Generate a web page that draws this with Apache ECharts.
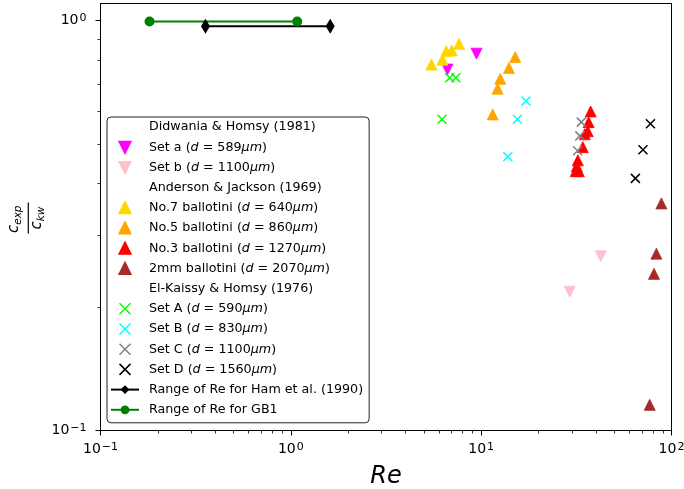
<!DOCTYPE html>
<html>
<head>
<meta charset="utf-8">
<script src="https://cdn.jsdelivr.net/npm/echarts@6/dist/echarts.min.js"></script>
<style>
  html, body { margin: 0; padding: 0; background: #fff; }
  #chart { width: 684px; height: 489px; }
</style>
</head>
<body>
<div id="chart"></div>
<script>
// Measured Re vs. c_exp / c_kw, grouped by source
const didwaniaSetA = [[9.45, 0.830], [6.65, 0.759]];
const didwaniaSetB = [[42.5, 0.266], [29.2, 0.218]];
const ajNo7 = [[5.48, 0.781], [6.26, 0.802], [6.56, 0.842], [7.01, 0.845], [7.65, 0.877]];
const ajNo5 = [[15.1, 0.814], [14.0, 0.766], [12.6, 0.721], [12.2, 0.682], [11.5, 0.590]];
const ajNo3 = [[37.6, 0.600], [36.7, 0.565], [36.3, 0.537], [35.0, 0.528], [34.2, 0.491],
               [32.2, 0.456], [31.8, 0.441], [31.4, 0.429], [32.6, 0.429]];
const aj2mm = [[88.5, 0.358], [83.3, 0.270], [80.9, 0.241], [76.8, 0.1155]];
const ekSetA = [[6.84, 0.725], [7.36, 0.725], [6.23, 0.574]];
const ekSetB = [[17.2, 0.636], [15.5, 0.574], [13.8, 0.465]];
const ekSetC = [[33.6, 0.565], [33.0, 0.523], [32.1, 0.481]];
const ekSetD = [[77.5, 0.560], [70.8, 0.484], [64.6, 0.412]];
const hamRange = [[0.356, 0.968], [1.61, 0.968]];
const gb1Range = [[0.181, 0.994], [1.08, 0.994]];

// Axis ticks (label exponents are drawn as superscripts)
const xMajorTicks = [0.1, 1, 10, 100];
const xTickExponents = ['−1', '0', '1', '2'];
const xMinorTicks = [0.2, 0.3, 0.4, 0.5, 0.6, 0.7, 0.8, 0.9,
                     2, 3, 4, 5, 6, 7, 8, 9,
                     20, 30, 40, 50, 60, 70, 80, 90];
const yMajorTicks = [0.1, 1];
const yTickExponents = ['−1', '0'];
const yMinorTicks = [0.2, 0.3, 0.4, 0.5, 0.6, 0.7, 0.8, 0.9];

// Legend group headings
const headings = ['Didwania & Homsy (1981)', 'Anderson & Jackson (1969)', 'El-Kaissy & Homsy (1976)'];

const FONT = 'DejaVu Sans';
const TRI_UP = 'path://M1,0L2,2L0,2Z';
const TRI_DOWN = 'path://M0,0L2,0L1,2Z';
const CROSS = 'path://M0,0L10,10M10,0L0,10';

function labelFor(ticks, exps) {
  return v => {
    for (let i = 0; i < ticks.length; i++) {
      if (Math.abs(Math.log10(v) - Math.log10(ticks[i])) < 1e-6) return '{b|10}{s|' + exps[i] + '}';
    }
    return '';
  };
}

const tickRich = {
  b: { fontSize: 14, fontFamily: FONT, color: '#000', lineHeight: 16 },
  s: { fontSize: 11, fontFamily: FONT, color: '#000', lineHeight: 6, verticalAlign: 'top', padding: [0, 0, 0, 1] }
};

function markerSeries(name, data, kind, color) {
  const s = { type: 'scatter', name, data, z: 3 };
  if (kind === 'cross') {
    s.symbol = CROSS;
    s.symbolSize = 9;
    s.itemStyle = { color: 'rgba(0,0,0,0)', borderColor: color, borderWidth: 1.5, opacity: 1 };
  } else {
    s.symbol = kind === 'down' ? TRI_DOWN : TRI_UP;
    s.symbolSize = 11;
    s.itemStyle = { color, borderColor: color, borderWidth: 0.8, opacity: 1 };
  }
  return s;
}

function headingSeries(name) {
  return { type: 'scatter', name, data: [] };
}

const series = [
  headingSeries(headings[0]),
  markerSeries('Set a (d=589μm)', didwaniaSetA, 'down', '#ff00ff'),
  markerSeries('Set b (d=1100μm)', didwaniaSetB, 'down', '#ffc0cb'),
  headingSeries(headings[1]),
  markerSeries('No.7 ballotini (d=640μm)', ajNo7, 'up', '#ffd700'),
  markerSeries('No.5 ballotini (d=860μm)', ajNo5, 'up', '#ffa500'),
  markerSeries('No.3 ballotini (d=1270μm)', ajNo3, 'up', '#ff0000'),
  markerSeries('2mm ballotini (d=2070μm)', aj2mm, 'up', '#a52a2a'),
  headingSeries(headings[2]),
  markerSeries('Set A (d=590μm)', ekSetA, 'cross', '#00ff00'),
  markerSeries('Set B (d=830μm)', ekSetB, 'cross', '#00ffff'),
  markerSeries('Set C (d=1100μm)', ekSetC, 'cross', '#808080'),
  markerSeries('Set D (d=1560μm)', ekSetD, 'cross', '#000000'),
  {
    type: 'line', name: 'Range of Re for Ham et al. (1990)', data: hamRange,
    symbol: 'diamond', symbolSize: [9, 15], showSymbol: true, z: 4,
    lineStyle: { color: '#000', width: 2 }, itemStyle: { color: '#000', opacity: 1 }
  },
  {
    type: 'line', name: 'Range of Re for GB1', data: gb1Range,
    symbol: 'circle', symbolSize: 10, showSymbol: true, z: 4,
    lineStyle: { color: '#008000', width: 2 }, itemStyle: { color: '#008000', opacity: 1 }
  }
];

const legendData = series.map(s => {
  if (headings.includes(s.name)) {
    return { name: s.name, icon: 'rect', itemStyle: { opacity: 0 } };
  }
  if (s.symbol === CROSS) {
    return { name: s.name, itemStyle: { borderWidth: 1.5 } };
  }
  return { name: s.name };
});

function legendText(name) {
  const m = name.match(/^(.*)\(d=(\d+)μm\)$/);
  if (!m) return name;
  return m[1] + '({i|d}{n| = ' + m[2] + '}{i|μm})';
}

const axisCommon = {
  type: 'log', logBase: 10,
  splitLine: { show: false },
  axisLine: { show: true, lineStyle: { color: '#000', width: 1 } }
};

const chart = echarts.init(document.getElementById('chart'), null, { renderer: 'canvas' });
chart.setOption({
  animation: false,
  backgroundColor: '#fff',
  grid: {
    left: 100.5, right: 12.5, top: 3.5, bottom: 58.5,
    containLabel: false, outerBoundsMode: 'none',
    show: true, borderColor: '#000', borderWidth: 1, backgroundColor: 'transparent'
  },
  xAxis: [
    Object.assign({}, axisCommon, {
      min: 0.1, max: 100, position: 'bottom',
      axisTick: { show: true, length: 5, lineStyle: { color: '#000', width: 1 }, customValues: xMajorTicks },
      axisLabel: {
        customValues: xMajorTicks, formatter: labelFor(xMajorTicks, xTickExponents),
        fontSize: 14, fontFamily: FONT, color: '#000', margin: 11, rich: tickRich
      },
      name: 'Re', nameLocation: 'middle', nameGap: 34,
      nameTextStyle: { fontSize: 24, fontStyle: 'italic', fontFamily: FONT, color: '#000' }
    }),
    Object.assign({}, axisCommon, {
      min: 0.1, max: 100, position: 'bottom', offset: 0,
      axisLine: { show: false },
      axisTick: { show: true, length: 3, lineStyle: { color: '#000', width: 0.8 }, customValues: xMinorTicks },
      axisLabel: { show: false }
    })
  ],
  yAxis: [
    Object.assign({}, axisCommon, {
      min: 0.1, max: 1.1, position: 'left',
      axisTick: { show: true, length: 5, lineStyle: { color: '#000', width: 1 }, customValues: yMajorTicks },
      axisLabel: {
        customValues: yMajorTicks, formatter: labelFor(yMajorTicks, yTickExponents),
        fontSize: 14, fontFamily: FONT, color: '#000', margin: 14, rich: tickRich
      }
    }),
    Object.assign({}, axisCommon, {
      min: 0.1, max: 1.1, position: 'left', offset: 0,
      axisLine: { show: false },
      axisTick: { show: true, length: 3, lineStyle: { color: '#000', width: 0.8 }, customValues: yMinorTicks },
      axisLabel: { show: false }
    })
  ],
  legend: {
    orient: 'vertical', left: 107, top: 117,
    padding: [3, 6, 6, 3],
    itemWidth: 28, itemHeight: 11, itemGap: 6.2,
    backgroundColor: '#fff', borderColor: '#222', borderWidth: 1, borderRadius: 4,
    selectedMode: false,
    data: legendData,
    formatter: legendText,
    textStyle: {
      fontSize: 12.7, fontFamily: FONT, color: '#000', lineHeight: 14,
      padding: [0, 0, 0, 5],
      rich: {
        i: { fontSize: 12.7, fontFamily: FONT, fontStyle: 'italic', color: '#000', lineHeight: 14 },
        n: { fontSize: 12.7, fontFamily: FONT, color: '#000', lineHeight: 14 }
      }
    }
  },
  graphic: [{
    type: 'group', x: 28.3, y: 218, rotation: Math.PI / 2,
    children: [
      { type: 'text', x: -15, y: -14, style: { text: 'c', font: 'italic 15px "DejaVu Sans"', fill: '#000', verticalAlign: 'middle' } },
      { type: 'text', x: -6.8, y: -10.5, style: { text: 'exp', font: 'italic 10.5px "DejaVu Sans"', fill: '#000', verticalAlign: 'middle' } },
      { type: 'line', shape: { x1: -15.5, y1: 0, x2: 15.5, y2: 0 }, style: { stroke: '#000', lineWidth: 1.2 } },
      { type: 'text', x: -11.5, y: 9, style: { text: 'c', font: 'italic 15px "DejaVu Sans"', fill: '#000', verticalAlign: 'middle' } },
      { type: 'text', x: -3.3, y: 12.5, style: { text: 'kw', font: 'italic 10.5px "DejaVu Sans"', fill: '#000', verticalAlign: 'middle' } }
    ]
  }],
  series
});
</script>
</body>
</html>
